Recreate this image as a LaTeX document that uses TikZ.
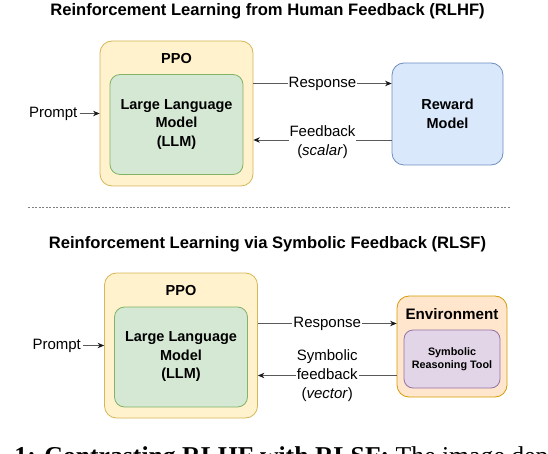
\documentclass[tikz,border=0pt]{standalone}
\usepackage{fontspec}
\setmainfont{Liberation Sans}
\newfontfamily\capfont{Liberation Serif}
\usetikzlibrary{positioning,arrows.meta}
\definecolor{ppofill}{HTML}{FFF2CC}
\definecolor{ppoline}{HTML}{D6B656}
\definecolor{llmfill}{HTML}{D5E8D4}
\definecolor{llmline}{HTML}{82B366}
\definecolor{rmfill}{HTML}{DAE8FC}
\definecolor{rmline}{HTML}{6C8EBF}
\definecolor{envfill}{HTML}{FFE6CC}
\definecolor{envline}{HTML}{D79B00}
\definecolor{toolfill}{HTML}{E1D5E7}
\definecolor{toolline}{HTML}{9673A6}

\begin{document}
\begin{tikzpicture}[x=1pt, y=-1pt,
  box/.style={draw, rounded corners=12pt, line width=0.8pt, inner sep=2pt},
  ppobox/.style={box, fill=ppofill, draw=ppoline, minimum width=153pt, minimum height=145pt},
  llmbox/.style={box, fill=llmfill, draw=llmline, minimum width=133pt, minimum height=100pt, rounded corners=10pt},
  txt/.style={font=\fontsize{15}{19}\selectfont, align=center, inner sep=2pt},
  bold/.style={font=\fontsize{14.5}{18.5}\selectfont\bfseries, align=center},
  title/.style={font=\fontsize{16.6}{20}\selectfont\bfseries, anchor=base},
  arr/.style={-{Stealth[length=6.5pt,width=5.5pt,black!90]}, line width=0.9pt, draw=black!65},
  lbl/.style={txt, fill=white, inner sep=1pt}]
\useasboundingbox (0,0) rectangle (548,454);
\clip (0,0) rectangle (548,454);

% RLHF
\node[title] (t1) at (267.5,16) {Reinforcement Learning from Human Feedback (RLHF)};
\node[ppobox] (ppo1) at (176.5,113.5) {};
\node[bold] (ppol1) at ([yshift=-18pt]ppo1.north) {PPO};
\node[llmbox, bold] (llm1) at (176.5,124.5) {Large Language\\Model\\(LLM)};
\node[box, bold, fill=rmfill, draw=rmline, minimum width=111pt, minimum height=102pt] (rm) at (447.5,114) {Reward\\Model};
\node[txt, left=20pt of ppo1.west] (p1) {Prompt};
\draw[arr] (p1) -- (ppo1.west);
\draw[arr] ([yshift=30pt]ppo1.east) -- ([yshift=30pt]ppo1.east -| rm.west)
  node[lbl, midway] (r1) {Response};
\draw[arr] ([yshift=-26pt]rm.west) -- ([yshift=-26pt]rm.west -| ppo1.east)
  node[lbl, midway, yshift=-2pt] (f1) {Feedback\\(\textit{scalar})};

\draw[gray, line width=0.6pt, dash pattern=on 2pt off 1.5pt] (28,207) -- (510,207);

% RLSF
\node[title] (t2) at (267.5,248) {Reinforcement Learning via Symbolic Feedback (RLSF)};
\node[ppobox] (ppo2) at (181,345.5) {};
\node[bold] (ppol2) at ([yshift=-18pt]ppo2.north) {PPO};
\node[llmbox, bold] (llm2) at (181,357) {Large Language\\Model\\(LLM)};
\node[box, fill=envfill, draw=envline, minimum width=110pt, minimum height=101pt] (env) at (452,346.5) {};
\node[font=\fontsize{15.2}{18}\selectfont\bfseries] (envl) at ([yshift=-18pt]env.north) {Environment};
\node[box, fill=toolfill, draw=toolline, minimum width=96pt, minimum height=58pt, rounded corners=9pt,
  font=\fontsize{10.8}{13}\selectfont\bfseries, align=center] (tool) at (452,359) {Symbolic\\Reasoning Tool};
\node[txt, left=21pt of ppo2.west] (p2) {Prompt};
\draw[arr] (p2) -- (ppo2.west);
\draw[arr] ([yshift=22pt]ppo2.east) -- ([yshift=22pt]ppo2.east -| env.west)
  node[lbl, midway] (r2) {Response};
\draw[arr] ([yshift=-29pt]env.west) -- ([yshift=-29pt]env.west -| ppo2.east)
  node[lbl, midway] (f2) {Symbolic\\feedback\\(\textit{vector})};

\node[anchor=base west, inner sep=0, font=\capfont\fontsize{25.7}{30}\selectfont] (cap) at (-36.4,464)
  {\textbf{Fig. 1: Contrasting RLHF with RLSF:} The image depicts};
\end{tikzpicture}
\end{document}
